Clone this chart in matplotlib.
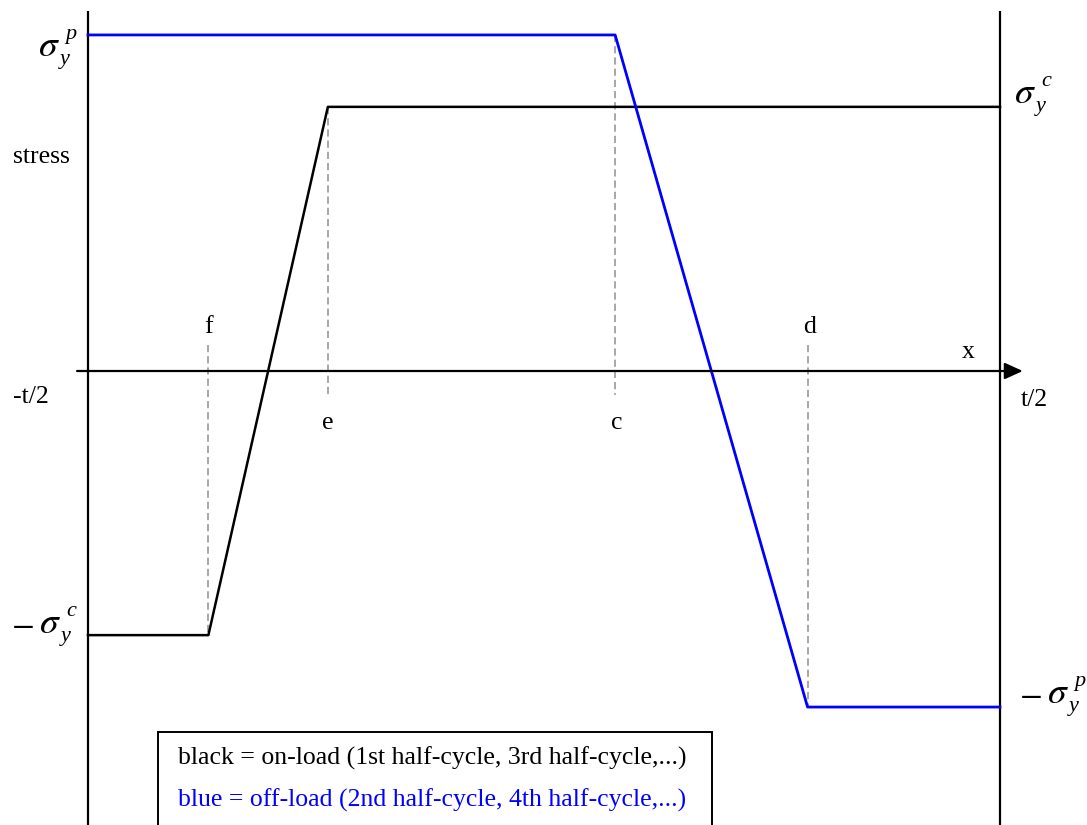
import matplotlib.pyplot as plt
from matplotlib.patches import Rectangle

plt.rcParams['font.family'] = ['Liberation Serif', 'DejaVu Serif']
plt.rcParams['mathtext.fontset'] = 'stix'

# through-thickness position, in units of the plate thickness t
x_half = 0.5
x_f, x_e, x_c, x_d = -0.368, -0.237, 0.078, 0.289

# yield stresses, normalised by sigma_y^p
sig_p = 1.0
sig_c = 0.786

# on-load (black) and off-load (blue) stress profiles
on_x = [-x_half, x_f, x_e, x_half]
on_s = [-sig_c, -sig_c, sig_c, sig_c]
off_x = [-x_half, x_c, x_d, x_half]
off_s = [sig_p, sig_p, -sig_p, -sig_p]

# guide lines under the kinks: (x, s_from, s_to)
guides = [(x_f, 0.077, -sig_c), (x_e, sig_c, -0.071),
          (x_c, sig_p, -0.071), (x_d, 0.077, -sig_p)]

fig = plt.figure(figsize=(10.87, 8.25), dpi=100)
ax = fig.add_axes([0, 0, 1, 1])
ax.set_xlim(-0.5965, 0.5954)
ax.set_ylim(-1.351, 1.104)
ax.axis('off')

# plate surfaces
for xs in (-x_half, x_half):
    ax.plot([xs, xs], [1.071, -1.4], color='black', lw=1.6, solid_capstyle='butt')

# x axis with arrow
ax.annotate('', xy=(0.525, 0), xytext=(-0.512, 0),
            arrowprops=dict(arrowstyle='-|>,head_length=0.55,head_width=0.25',
                            color='black', lw=1.6, mutation_scale=20,
                            shrinkA=0, shrinkB=0))

for gx, s0, s1 in guides:
    ax.plot([gx, gx], [s0, s1], color='#a0a0a0', lw=1.3, ls=(0, (4, 2.2)))

ax.plot(on_x, on_s, color='black', lw=1.8)
ax.plot(off_x, off_s, color='#0000ff', lw=2.0)


def sigma_label(x, y, sup, minus=False):
    """sigma with italic y below and sup above, anchored at the sigma's left baseline"""
    kw = dict(xycoords='data', textcoords='offset points', va='baseline', ha='left')
    ax.annotate(r'$\sigma$', (x, y), xytext=(-1, 0), fontsize=27, **kw)
    ax.annotate('y', (x, y), xytext=(15, -6), fontsize=16, style='italic', **kw)
    ax.annotate(sup, (x, y), xytext=(19, 12), fontsize=16, style='italic', **kw)
    if minus:
        ax.annotate(r'$-$', (x, y), xytext=(-21, 0), fontsize=24, **kw)


sigma_label(-0.5537, 0.9375, 'p')
sigma_label(0.5164, 0.7976, 'c')
sigma_label(-0.5526, -0.7798, 'c', minus=True)
sigma_label(0.5526, -0.9881, 'p', minus=True)

fs = 18.5
ax.text(-0.5515, 0.637, 'stress', fontsize=fs, ha='center', va='center')
ax.text(-0.5625, -0.077, '-t/2', fontsize=fs, ha='center', va='center')
ax.text(0.538, -0.086, 't/2', fontsize=fs, ha='center', va='center')
ax.text(0.465, 0.0565, 'x', fontsize=fs, ha='center', va='center')
ax.text(x_f, 0.131, 'f', fontsize=fs, ha='center', va='center')
ax.text(x_e, -0.155, 'e', fontsize=fs, ha='center', va='center')
ax.text(x_c + 0.002, -0.155, 'c', fontsize=fs, ha='center', va='center')
ax.text(x_d + 0.002, 0.131, 'd', fontsize=fs, ha='center', va='center')

# key box
ax.add_patch(Rectangle((-0.4232, -1.5), 0.6074, 1.5 - 1.074,
                       facecolor='white', edgecolor='black', lw=1.4))
ax.text(-0.401, -1.152, 'black = on-load (1st half-cycle, 3rd half-cycle,...)',
        fontsize=fs, color='black', ha='left', va='center')
ax.text(-0.401, -1.277, 'blue = off-load (2nd half-cycle, 4th half-cycle,...)',
        fontsize=fs, color='#0000ff', ha='left', va='center')

fig.savefig('out.png', dpi=100, facecolor='white')
